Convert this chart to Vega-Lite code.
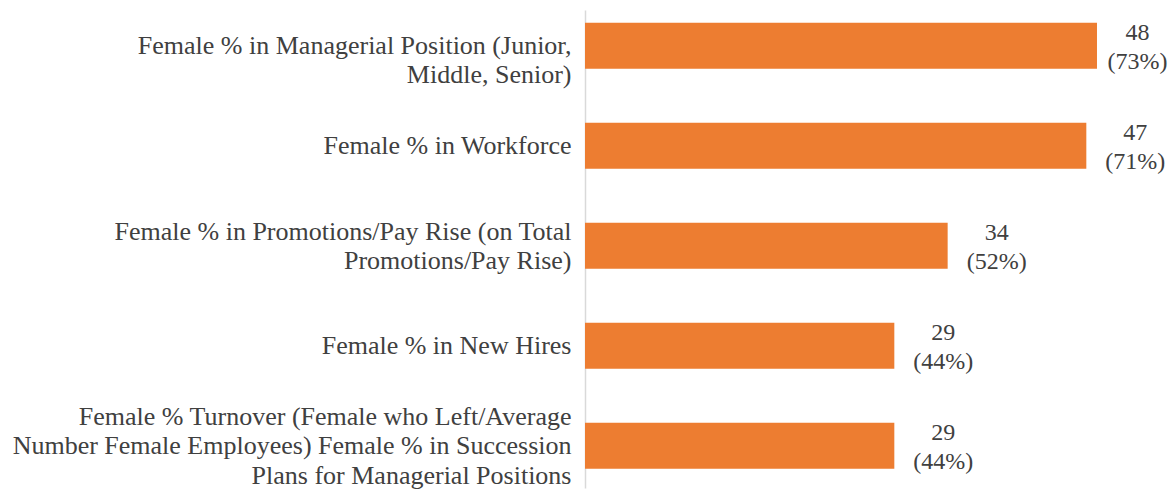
{
  "$schema": "https://vega.github.io/schema/vega-lite/v6.json",
  "width": 589,
  "height": 478,
  "autosize": {"type": "none"},
  "padding": {"left": 585, "top": 10, "right": 0, "bottom": 2},
  "background": "white",
  "config": {"view": {"stroke": null}},
  "data": {
    "values": [
      {"category": "Female % in Managerial Position (Junior,|Middle, Senior)", "value": 48, "pct": 73},
      {"category": "Female % in Workforce", "value": 47, "pct": 71},
      {"category": "Female % in Promotions/Pay Rise (on Total|Promotions/Pay Rise)", "value": 34, "pct": 52},
      {"category": "Female % in New Hires", "value": 29, "pct": 44},
      {"category": "Female % Turnover (Female who Left/Average|Number Female Employees) Female % in Succession|Plans for Managerial Positions", "value": 29, "pct": 44}
    ]
  },
  "transform": [
    {"calculate": "datum.value + '\\n(' + datum.pct + '%)'", "as": "label"},
    {"calculate": "min(datum.value, 47.2)", "as": "labelAt"}
  ],
  "encoding": {
    "y": {
      "field": "category",
      "type": "nominal",
      "sort": null,
      "scale": {"paddingInner": 0.54, "paddingOuter": 0.16, "align": 0.4},
      "axis": {
        "title": null,
        "ticks": false,
        "domain": true,
        "domainColor": "#D9D9D9",
        "domainWidth": 1.5,
        "labelExpr": "split(datum.label, '|')",
        "labelFont": "Liberation Serif",
        "labelFontSize": 26,
        "labelColor": "#404040",
        "labelLineHeight": 29.5,
        "labelPadding": 14,
        "labelLimit": 0,
        "labelOffset": {
          "condition": [
            {"test": "indexof(datum.value, 'Turnover') >= 0", "value": -29},
            {"test": "indexof(datum.value, '(on Total') >= 0", "value": -14}
          ],
          "value": 0
        }
      }
    }
  },
  "layer": [
    {
      "mark": {"type": "bar", "color": "#ED7D31"},
      "encoding": {
        "x": {"field": "value", "type": "quantitative", "scale": {"domain": [0, 55.22], "nice": false}, "axis": null}
      }
    },
    {
      "mark": {"type": "text", "align": "center", "baseline": "middle", "dx": 49, "dy": -13, "lineBreak": "\n", "lineHeight": 29.5, "font": "Liberation Serif", "fontSize": 24, "color": "#404040"},
      "encoding": {
        "x": {"field": "labelAt", "type": "quantitative"},
        "text": {"field": "label"}
      }
    }
  ]
}
